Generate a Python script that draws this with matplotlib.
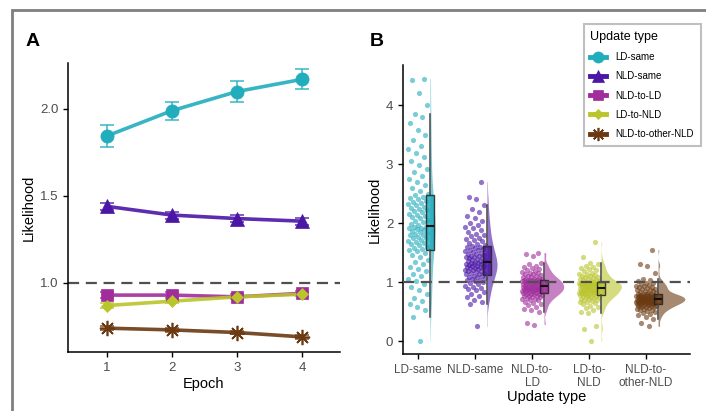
import numpy as np
import matplotlib
matplotlib.use("Agg")
import matplotlib.pyplot as plt
from matplotlib.lines import Line2D
from matplotlib.patches import Rectangle

plt.rcParams['font.family'] = ['Liberation Sans', 'DejaVu Sans']

# ---- panel A: mean likelihood per epoch ----
epochs = [1, 2, 3, 4]
groups = ['LD-same', 'NLD-same', 'NLD-to-LD', 'LD-to-NLD', 'NLD-to-other-NLD']
colors = ['#22ADBD', '#4B16A6', '#A12D9C', '#BAC42B', '#6B3A12']
markers = ['o', '^', 's', 'D', (8, 2, 0)]
msizes = [9.5, 9.5, 8.5, 6.5, 11]

ld_same_mean = [1.845, 1.99, 2.10, 2.17]
ld_same_err = [0.062, 0.052, 0.058, 0.058]
nld_same_mean = [1.44, 1.39, 1.37, 1.355]
nld_same_err = [0.022, 0.020, 0.020, 0.020]
nld_to_ld_mean = [0.93, 0.93, 0.92, 0.94]
nld_to_ld_err = [0.015, 0.015, 0.015, 0.015]
ld_to_nld_mean = [0.87, 0.895, 0.92, 0.935]
ld_to_nld_err = [0.012, 0.012, 0.012, 0.012]
other_nld_mean = [0.74, 0.73, 0.715, 0.69]
other_nld_err = [0.010, 0.010, 0.010, 0.010]

means = [ld_same_mean, nld_same_mean, nld_to_ld_mean, ld_to_nld_mean, other_nld_mean]
errs = [ld_same_err, nld_same_err, nld_to_ld_err, ld_to_nld_err, other_nld_err]

# ---- panel B: individual likelihood values per update type ----
ld_same_vals = [
    0.00, 0.40, 0.52, 0.58, 0.63, 0.68, 0.73, 0.80, 0.86, 0.92, 0.97, 1.02, 1.06,
    1.10, 1.14, 1.18, 1.22, 1.26, 1.30, 1.34, 1.38, 1.42, 1.46, 1.49, 1.52,
    1.54, 1.56, 1.58, 1.60, 1.62, 1.64, 1.66, 1.68, 1.70, 1.72, 1.74, 1.75, 1.77,
    1.79, 1.80, 1.82, 1.84, 1.85, 1.87, 1.88, 1.90, 1.91, 1.92, 1.93, 1.94,
    1.97, 1.99, 2.01, 2.03, 2.05, 2.08, 2.10, 2.12, 2.14, 2.16, 2.18, 2.20, 2.22,
    2.24, 2.26, 2.28, 2.30, 2.32, 2.34, 2.36, 2.38, 2.40, 2.42, 2.44, 2.47,
    2.50, 2.55, 2.60, 2.65, 2.70, 2.75, 2.80, 2.86, 2.92, 2.98, 3.05, 3.12, 3.18,
    3.25, 3.30, 3.40, 3.50, 3.58, 3.70, 3.80, 3.85, 4.00, 4.20, 4.43, 4.45,
]
nld_same_vals = [
    0.25, 0.62, 0.66, 0.70, 0.74, 0.77, 0.80, 0.83, 0.86, 0.88, 0.90, 0.92, 0.94,
    0.96, 0.98, 1.00, 1.01, 1.03, 1.04, 1.05, 1.07, 1.08, 1.09, 1.10, 1.11,
    1.13, 1.14, 1.15, 1.16, 1.17, 1.18, 1.19, 1.20, 1.21, 1.22, 1.23, 1.23, 1.24,
    1.25, 1.26, 1.27, 1.27, 1.28, 1.29, 1.30, 1.30, 1.31, 1.32, 1.32, 1.33,
    1.34, 1.35, 1.36, 1.37, 1.38, 1.39, 1.40, 1.41, 1.42, 1.43, 1.44, 1.45, 1.46,
    1.47, 1.48, 1.50, 1.51, 1.52, 1.54, 1.55, 1.56, 1.58, 1.59, 1.60, 1.61,
    1.63, 1.65, 1.67, 1.69, 1.71, 1.73, 1.75, 1.78, 1.80, 1.82, 1.85, 1.88, 1.91,
    1.94, 1.97, 2.00, 2.04, 2.08, 2.12, 2.18, 2.24, 2.30, 2.40, 2.45, 2.70,
]
nld_to_ld_vals = [
    0.28, 0.30, 0.49, 0.52, 0.55, 0.58, 0.61, 0.63, 0.65, 0.67, 0.69, 0.70, 0.71,
    0.72, 0.73, 0.74, 0.75, 0.76, 0.77, 0.77, 0.78, 0.79, 0.79, 0.80, 0.80,
    0.81, 0.82, 0.82, 0.83, 0.83, 0.84, 0.84, 0.85, 0.85, 0.86, 0.86, 0.87, 0.87,
    0.88, 0.88, 0.89, 0.89, 0.89, 0.90, 0.90, 0.90, 0.91, 0.91, 0.92, 0.92,
    0.93, 0.93, 0.94, 0.94, 0.95, 0.95, 0.96, 0.96, 0.97, 0.97, 0.98, 0.98, 0.99,
    0.99, 1.00, 1.00, 1.01, 1.01, 1.02, 1.02, 1.03, 1.03, 1.03, 1.04, 1.04,
    1.05, 1.06, 1.06, 1.07, 1.08, 1.09, 1.10, 1.11, 1.12, 1.13, 1.14, 1.15, 1.16,
    1.17, 1.18, 1.20, 1.22, 1.24, 1.26, 1.28, 1.30, 1.32, 1.44, 1.47, 1.50,
]
ld_to_nld_vals = [
    0.00, 0.20, 0.25, 0.47, 0.50, 0.53, 0.56, 0.58, 0.60, 0.62, 0.64, 0.66, 0.67,
    0.68, 0.69, 0.70, 0.71, 0.72, 0.73, 0.74, 0.75, 0.75, 0.76, 0.77, 0.77,
    0.78, 0.79, 0.79, 0.80, 0.80, 0.81, 0.81, 0.82, 0.82, 0.83, 0.83, 0.84, 0.84,
    0.85, 0.85, 0.86, 0.86, 0.87, 0.87, 0.88, 0.88, 0.89, 0.89, 0.90, 0.90,
    0.91, 0.91, 0.92, 0.92, 0.93, 0.93, 0.93, 0.94, 0.94, 0.95, 0.95, 0.95, 0.96,
    0.96, 0.97, 0.97, 0.97, 0.98, 0.98, 0.98, 0.99, 0.99, 0.99, 1.00, 1.00,
    1.01, 1.02, 1.03, 1.04, 1.05, 1.06, 1.07, 1.08, 1.09, 1.10, 1.11, 1.12, 1.13,
    1.14, 1.16, 1.18, 1.20, 1.22, 1.24, 1.26, 1.28, 1.31, 1.33, 1.42, 1.68,
]
other_nld_vals = [
    0.25, 0.30, 0.38, 0.41, 0.44, 0.46, 0.48, 0.50, 0.51, 0.52, 0.53, 0.54, 0.55,
    0.56, 0.57, 0.57, 0.58, 0.59, 0.59, 0.60, 0.60, 0.61, 0.61, 0.62, 0.62,
    0.63, 0.63, 0.64, 0.64, 0.65, 0.65, 0.65, 0.66, 0.66, 0.66, 0.67, 0.67, 0.67,
    0.68, 0.68, 0.68, 0.69, 0.69, 0.69, 0.70, 0.70, 0.70, 0.71, 0.71, 0.71,
    0.72, 0.72, 0.72, 0.73, 0.73, 0.73, 0.74, 0.74, 0.74, 0.75, 0.75, 0.75, 0.76,
    0.76, 0.76, 0.77, 0.77, 0.77, 0.78, 0.78, 0.78, 0.79, 0.79, 0.79, 0.80,
    0.81, 0.82, 0.83, 0.84, 0.85, 0.86, 0.87, 0.88, 0.89, 0.90, 0.91, 0.92, 0.93,
    0.94, 0.95, 0.96, 0.98, 0.99, 1.01, 1.03, 1.05, 1.15, 1.27, 1.30, 1.55,
]
values = [ld_same_vals, nld_same_vals, nld_to_ld_vals, ld_to_nld_vals, other_nld_vals]
tick_labels = ['LD-same', 'NLD-same', 'NLD-to-\nLD', 'LD-to-\nNLD', 'NLD-to-\nother-NLD']

TXT = '#4D4D4D'
DASH = (0, (5, 3))
fig = plt.figure(figsize=(7.06, 4.11), dpi=100)

# outer frame
fig.add_artist(Rectangle((12 / 706, -0.05), 1.2, 1 - 10 / 411 + 0.05,
                         transform=fig.transFigure, fill=False,
                         edgecolor='#7F7F7F', linewidth=2))


def style_axes(ax, labelsize=9.5):
    for side in ['top', 'right']:
        ax.spines[side].set_visible(False)
    for side in ['left', 'bottom']:
        ax.spines[side].set_linewidth(1.1)
        ax.spines[side].set_color('black')
    ax.tick_params(colors='black', labelcolor=TXT, labelsize=labelsize, length=3.5, width=1)


# panel A
axA = fig.add_axes([68 / 706, 59 / 411, 272 / 706, 289 / 411])
style_axes(axA)
axA.axhline(1.0, color='#505050', linestyle=DASH, linewidth=1.6, zorder=1)
for i in range(len(groups)):
    axA.errorbar(epochs, means[i], yerr=errs[i], color=colors[i], alpha=0.75,
                 linewidth=1.3, capsize=5, capthick=1.3, fmt='none', zorder=2)
    axA.plot(epochs, means[i], color=colors[i], linewidth=2.6, alpha=0.9, zorder=3)
    axA.plot(epochs, means[i], linestyle='none', marker=markers[i], ms=msizes[i],
             color=colors[i], markeredgewidth=1.2 if i == 4 else 0.5, zorder=4)
axA.set_xlim(0.4, 4.585)
axA.set_ylim(0.603, 2.264)
axA.set_xticks(epochs)
axA.set_yticks([1.0, 1.5, 2.0])
axA.set_yticklabels(['1.0', '1.5', '2.0'])
axA.set_xlabel('Epoch', fontsize=10.5, color='black', labelpad=2)
axA.set_ylabel('Likelihood', fontsize=10.5, color='black', labelpad=3)
fig.text(26 / 706, 1 - 42 / 411, 'A', fontsize=14, fontweight='bold', va='center')

# panel B: raincloud (points, box, half violin)
axB = fig.add_axes([403 / 706, 57 / 411, 287 / 706, 289 / 411])
style_axes(axB)
axB.tick_params(axis='x', labelsize=8.5)
axB.axhline(1.0, color='#505050', linestyle=DASH, linewidth=1.6, zorder=6)

box_off = 0.21
dens_list = []
for v in values:
    v = np.asarray(v)
    n = len(v)
    q1, q3 = np.percentile(v, [25, 75])
    bw = 0.9 * min(v.std(ddof=1), (q3 - q1) / 1.34) * n ** -0.2
    grid = np.linspace(v.min(), v.max(), 200)
    d = np.exp(-0.5 * ((grid[:, None] - v[None, :]) / bw) ** 2).sum(axis=1)
    d /= n * bw * np.sqrt(2 * np.pi)
    dens_list.append((grid, d))
scale = 0.47 / max(d.max() for _, d in dens_list)

for i, v in enumerate(values):
    pos = i + 1
    v = np.asarray(v)
    frac = (np.arange(1, len(v) + 1) * 0.6180339887) % 1.0
    xs = pos - 0.18 + 0.36 * frac
    axB.scatter(xs, v, s=14, color=colors[i], alpha=0.6, linewidths=0, zorder=2)
    grid, d = dens_list[i]
    axB.fill_betweenx(grid, pos + box_off, pos + box_off + d * scale,
                      color=colors[i], alpha=0.6, linewidth=0, zorder=3)
    axB.boxplot([v], positions=[pos + box_off], widths=0.14, showfliers=False,
                patch_artist=True, manage_ticks=False, zorder=4,
                boxprops=dict(facecolor=colors[i], alpha=0.85, edgecolor='#222222', linewidth=1),
                medianprops=dict(color='#111111', linewidth=1.5),
                whiskerprops=dict(color='#444444', linewidth=1.1),
                capprops=dict(linewidth=0))

axB.set_xlim(0.737, 5.77)
axB.set_ylim(-0.22, 4.68)
axB.set_xticks(range(1, 6))
axB.set_xticklabels(tick_labels, linespacing=1.1)
axB.set_yticks([0, 1, 2, 3, 4])
axB.set_xlabel('Update type', fontsize=10.5, color='black', labelpad=1)
axB.set_ylabel('Likelihood', fontsize=10.5, color='black', labelpad=3)
fig.text(370 / 706, 1 - 42 / 411, 'B', fontsize=14, fontweight='bold', va='center')

handles = [Line2D([], [], color=colors[i], marker=markers[i], ms=msizes[i] - 1.5,
                  linewidth=3.5, markeredgewidth=1.2 if i == 4 else 0.5)
           for i in range(len(groups))]
leg = fig.legend(handles, groups, title='Update type', loc='upper right',
                 bbox_to_anchor=(701 / 706, 1 - 24 / 411), fontsize=7,
                 title_fontsize=9, frameon=True, fancybox=False,
                 handlelength=1.6, handletextpad=1.0, labelspacing=0.95,
                 borderpad=0.7, borderaxespad=0)
leg._legend_box.align = 'left'
leg.get_frame().set_edgecolor('#B0B0B0')
leg.get_frame().set_linewidth(1.5)

fig.savefig('out.png', dpi=100)
